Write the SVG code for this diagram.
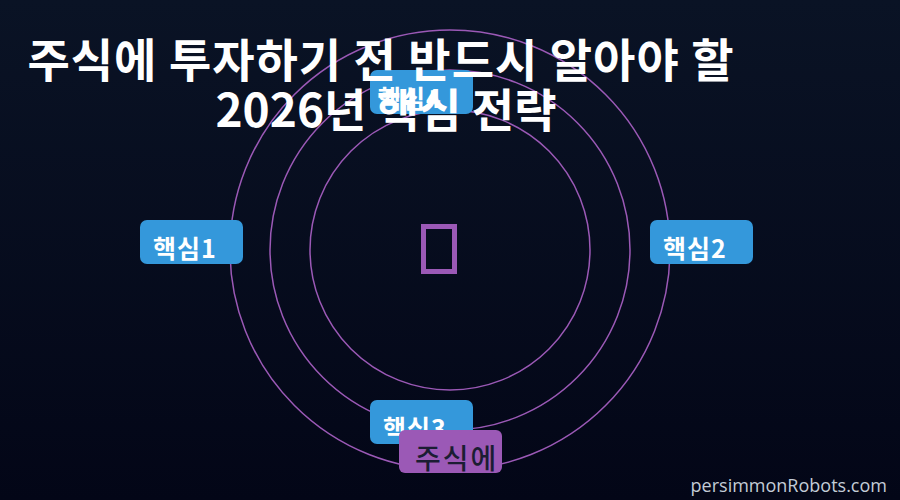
<svg xmlns="http://www.w3.org/2000/svg" width="900" height="500" viewBox="0 0 900 500">
<defs>
<linearGradient id="bg" x1="0" y1="0" x2="0" y2="1">
<stop offset="0" stop-color="#0a1325"/>
<stop offset="1" stop-color="#030617"/>
</linearGradient>
<style>
.orbit{fill:none;stroke:#9b59b6;stroke-width:1.5}
.box{fill:#3498db}
.lbl{font-family:"Noto Sans CJK KR","Noto Sans",sans-serif;font-weight:bold;font-size:25px;letter-spacing:1px;fill:#ffffff}
.title{font-family:"Noto Sans CJK KR","Noto Sans",sans-serif;font-weight:bold;font-size:46px;fill:#ffffff;text-anchor:middle}
</style>
</defs>
<rect width="900" height="500" fill="url(#bg)"/>
<g id="connectors">
<circle class="orbit" cx="450" cy="250" r="140"/>
<circle class="orbit" cx="450" cy="250" r="180"/>
<circle class="orbit" cx="450" cy="250" r="220"/>
</g>
<g id="center">
<rect x="423.5" y="226.5" width="31" height="45" fill="none" stroke="#9b59b6" stroke-width="5"/>
</g>
<g id="node1">
<rect class="box" x="140" y="220" width="103" height="44" rx="7"/>
<text class="lbl" x="153" y="258">핵심1</text>
</g>
<g id="node2">
<rect class="box" x="650" y="220" width="103" height="44" rx="7"/>
<text class="lbl" x="663" y="258">핵심2</text>
</g>
<g id="node3">
<rect class="box" x="370" y="400" width="103" height="44" rx="7"/>
<text class="lbl" x="383" y="438">핵심3</text>
</g>
<g id="node4">
<rect class="box" x="370" y="70" width="103" height="44" rx="7"/>
<text class="lbl" x="378" y="108">핵심4</text>
</g>
<g id="node5">
<rect x="399" y="430" width="103" height="43" rx="6" fill="#9b59b6"/>
<text x="415" y="469" font-family="Noto Sans CJK KR, sans-serif" font-size="28" font-weight="500" letter-spacing="2" fill="#1b1d33">주식에</text>
</g>
<g id="title">
<text class="title" x="381" y="77" letter-spacing="1">주식에 투자하기 전 반드시 알아야 할</text>
<text class="title" x="386" y="127">2026년 핵심 전략</text>
</g>
<text x="887" y="492" font-family="Open Sans, sans-serif" font-size="18" fill="#c3ccd6" text-anchor="end">persimmonRobots.com</text>
</svg>
